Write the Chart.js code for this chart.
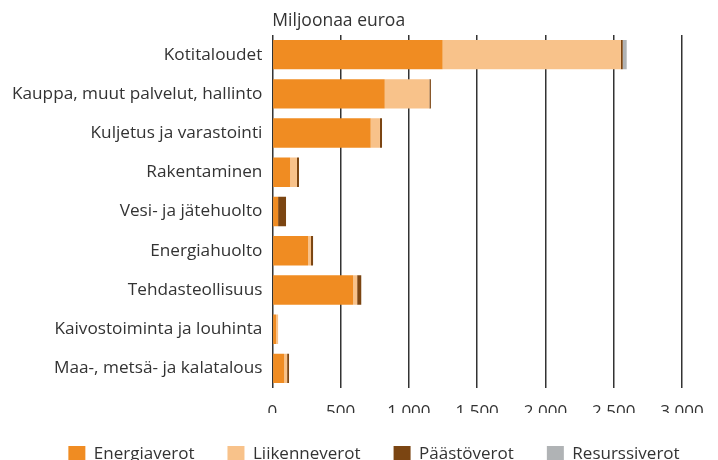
<!DOCTYPE html>
<html>
<head>
<meta charset="utf-8">
<script src="https://cdn.jsdelivr.net/npm/chart.js@4"></script>
<style>
  html, body { margin: 0; padding: 0; background: #fff; }
  #wrap { width: 718px; height: 460px; }
</style>
</head>
<body>
<div id="wrap"><canvas id="myChart"></canvas></div>
<script>
const categories = ['Kotitaloudet', 'Kauppa, muut palvelut, hallinto', 'Kuljetus ja varastointi',
  'Rakentaminen', 'Vesi- ja jätehuolto', 'Energiahuolto', 'Tehdasteollisuus',
  'Kaivostoiminta ja louhinta', 'Maa-, metsä- ja kalatalous'];
const energiaverot = [1247, 823, 720, 130, 42, 261, 591, 27, 86];
const liikenneverot = [1305, 327, 68, 50, 0, 22, 30, 15, 22];
const paastoverot = [14, 11, 15, 15, 58, 15, 30, 0, 14];
const resurssiverot = [29, 0, 0, 0, 0, 0, 0, 0, 0];
const xTicks = [0, 500, 1000, 1500, 2000, 2500, 3000];

Chart.defaults.font.family = '"Open Sans", "Noto Sans", sans-serif';
Chart.defaults.font.size = 17;
Chart.defaults.color = '#333';

// unit title drawn above the plot, left-aligned with it
const unitTitle = {
  id: 'unitTitle',
  afterDraw(chart) {
    const c = chart.ctx;
    c.save();
    c.font = '17.5px "Open Sans", sans-serif';
    c.fillStyle = '#333';
    c.textBaseline = 'middle';
    c.fillText('Miljoonaa euroa', chart.chartArea.left, 21);
    c.restore();
  }
};

// legend row sits a bit right of the canvas centre in the original
const legendShift = {
  id: 'legendShift',
  afterLayout(chart) {
    chart.legend.left += 32;
    chart.legend.right += 32;
  }
};

const ctx = document.getElementById('myChart');
new Chart(ctx, {
  type: 'bar',
  data: {
    labels: categories,
    datasets: [
      { label: 'Energiaverot', data: energiaverot, backgroundColor: '#F08C22' },
      { label: 'Liikenneverot', data: liikenneverot, backgroundColor: '#F8C28A' },
      { label: 'Päästöverot', data: paastoverot, backgroundColor: '#7B4512' },
      { label: 'Resurssiverot', data: resurssiverot, backgroundColor: '#B0B3B5' }
    ]
  },
  options: {
    indexAxis: 'y',
    responsive: true,
    maintainAspectRatio: false,
    animation: false,
    datasets: { bar: { barPercentage: 0.75, categoryPercentage: 1 } },
    layout: { padding: { top: 35, right: 36, left: 2, bottom: -13 } },
    scales: {
      x: {
        stacked: true,
        min: 0,
        max: 3000,
        afterBuildTicks: (axis) => { axis.ticks = xTicks.map(v => ({ value: v })); },
        afterFit: (axis) => { axis.height = 25; },
        ticks: {
          padding: 14,
          callback: (v) => String(v).replace(/\B(?=(\d{3})+(?!\d))/g, ' ')
        },
        grid: { color: '#333', lineWidth: 1.5, drawTicks: false },
        border: { display: false }
      },
      y: {
        stacked: true,
        ticks: { padding: 10, font: { size: 17.2 } },
        grid: { display: false, drawTicks: false },
        border: { display: false }
      }
    },
    plugins: {
      legend: {
        position: 'bottom',
        labels: { boxWidth: 17, boxHeight: 17, padding: 33, font: { size: 17 } }
      },
      tooltip: { enabled: false }
    }
  },
  plugins: [unitTitle, legendShift]
});
</script>
</body>
</html>
